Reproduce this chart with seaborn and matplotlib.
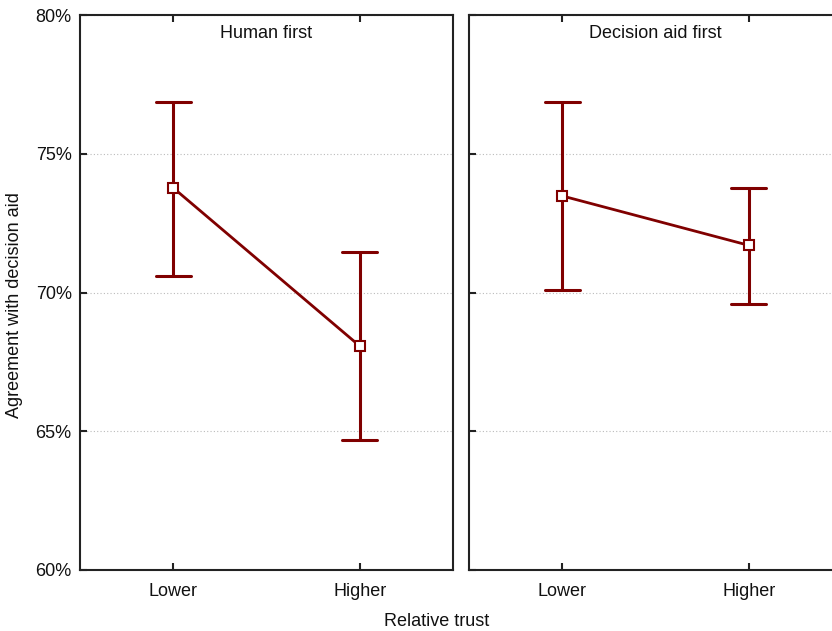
import numpy as np
import pandas as pd
import seaborn as sns
import matplotlib
matplotlib.use("Agg")
import matplotlib.pyplot as plt
from matplotlib.ticker import FuncFormatter

sns.set_style("white")
plt.rcParams['font.family'] = ['Liberation Sans', 'DejaVu Sans']

panels = ["Human first", "Decision aid first"]
categories = ["Lower", "Higher"]
means = {"Human first": [73.77, 68.07], "Decision aid first": [73.48, 71.70]}
lower = {"Human first": [70.59, 64.68], "Decision aid first": [70.09, 69.59]}
upper = {"Human first": [76.86, 71.46], "Decision aid first": [76.86, 73.77]}
yticks = [60, 65, 70, 75, 80]

rows = []
for p in panels:
    for i, c in enumerate(categories):
        for v in (lower[p][i], means[p][i], upper[p][i]):
            rows.append({"panel": p, "trust": c, "value": v})
df = pd.DataFrame(rows)

W, H = 832, 631
fig = plt.figure(figsize=(W / 100, H / 100), dpi=100)
col = "#800000"
lefts = [80, 469]
for k, p in enumerate(panels):
    ax = fig.add_axes([lefts[k] / W, 61 / H, 373 / W, 555 / H])
    sub = df[df.panel == p]
    sns.pointplot(data=sub, x="trust", y="value", order=categories,
                  estimator=np.median, errorbar=("pi", 100), color=col,
                  markers="s", capsize=0.19, ax=ax,
                  err_kws={"linewidth": 2.2},
                  markersize=7.5, markeredgewidth=1.5, linewidth=2)
    for ln in ax.lines:
        if ln.get_marker() == "s":
            ln.set_markerfacecolor("white")
            ln.set_markeredgecolor(col)
            ln.set_zorder(10)
    ax.set_ylim(60, 80)
    ax.set_xlim(-0.5, 1.5)
    ax.set_yticks(yticks)
    ax.yaxis.grid(True, linestyle=(0, (1, 2)), color="#bbbbbb", linewidth=0.8)
    ax.set_axisbelow(True)
    ax.tick_params(axis="both", direction="in", length=5, width=1.5,
                   labelsize=13, colors="#222222", labelcolor="#111111",
                   top=True, bottom=True, left=True, right=False,
                   labeltop=False)
    ax.tick_params(axis="x", pad=9)
    ax.tick_params(axis="y", pad=6)
    ax.yaxis.set_major_formatter(FuncFormatter(lambda v, _: f"{v:.0f}%"))
    if k == 1:
        ax.tick_params(axis="y", labelleft=False)
    for s in ax.spines.values():
        s.set_visible(True)
        s.set_linewidth(1.5)
        s.set_color("#222222")
    ax.set_xlabel("")
    ax.set_ylabel("")
    ax.text(0.5, 0.982, p, transform=ax.transAxes, ha="center", va="top",
            fontsize=13, color="#111111")

fig.text(437 / W, 1 - 621 / H, "Relative trust", ha="center", va="center",
         fontsize=13, color="#111111")
fig.text(15 / W, 1 - 305 / H, "Agreement with decision aid", ha="center",
         va="center", rotation=90, fontsize=13, color="#111111")

fig.savefig("out.png", dpi=100)
